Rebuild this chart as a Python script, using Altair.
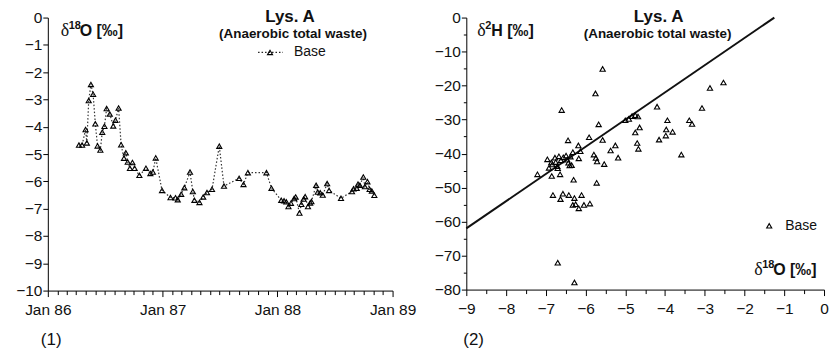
import altair as alt
import pandas as pd

# ---------------- data: panel (1) time series of d18O ----------------
dates = [
    "1986-04-10", "1986-04-20", "1986-05-01", "1986-05-05", "1986-05-11", "1986-05-18",
    "1986-05-25", "1986-06-01", "1986-06-08", "1986-06-17", "1986-06-23", "1986-06-30",
    "1986-07-07", "1986-07-17", "1986-07-28", "1986-08-04", "1986-08-14", "1986-08-22",
    "1986-08-31", "1986-09-06", "1986-09-12", "1986-09-19", "1986-09-27", "1986-10-04",
    "1986-10-19", "1986-11-09", "1986-11-23", "1986-12-01", "1986-12-10", "1986-12-30",
    "1987-01-26", "1987-02-11", "1987-02-18", "1987-03-01", "1987-03-11", "1987-03-29",
    "1987-04-07", "1987-04-12", "1987-04-28", "1987-05-10", "1987-05-22", "1987-06-07",
    "1987-06-30", "1987-07-15", "1987-09-01", "1987-09-15", "1987-09-29", "1987-11-27",
    "1987-12-13", "1988-01-13", "1988-01-22", "1988-01-29", "1988-02-05", "1988-02-13",
    "1988-02-23", "1988-02-28", "1988-03-11", "1988-03-17", "1988-03-24", "1988-03-29",
    "1988-04-07", "1988-04-14", "1988-04-18", "1988-05-03", "1988-05-08", "1988-05-16",
    "1988-05-24", "1988-06-07", "1988-06-13", "1988-07-21", "1988-08-25", "1988-08-30",
    "1988-09-09", "1988-09-13", "1988-09-19", "1988-09-30", "1988-10-05", "1988-10-13",
    "1988-10-20", "1988-10-27", "1988-11-04",
]
d18o = [
    -4.67, -4.67, -4.10, -4.59, -3.04, -2.45,
    -2.81, -3.89, -4.70, -4.85, -4.20, -3.98,
    -3.33, -3.53, -3.97, -3.76, -3.31, -4.66,
    -5.15, -4.95, -5.29, -5.52, -5.31, -5.52,
    -5.78, -5.52, -5.71, -5.66, -5.14, -6.33,
    -6.59, -6.60, -6.67, -6.47, -6.23, -5.66,
    -6.37, -6.69, -6.77, -6.57, -6.41, -6.29,
    -4.71, -6.17, -5.89, -6.11, -5.68, -5.68,
    -6.25, -6.69, -6.71, -6.75, -6.92, -6.80,
    -6.63, -6.57, -7.16, -6.84, -6.65, -6.56,
    -6.92, -6.79, -6.74, -6.14, -6.39, -6.42,
    -6.50, -6.08, -6.33, -6.62, -6.37, -6.27,
    -6.25, -6.10, -6.14, -5.84, -6.19, -6.01,
    -6.29, -6.35, -6.51,
]

# ---------------- data: panel (2) d18O vs d2H ----------------
sx = [
    -5.57, -5.75, -6.60, -5.67, -4.20, -2.87, -2.53, -3.07, -3.94, -3.39,
    -3.32, -3.97, -3.81, -3.98, -4.15, -3.59, -5.00, -4.91, -4.83, -4.75,
    -4.68, -4.64, -4.75, -4.70, -4.67, -5.57, -5.91, -6.44, -6.18, -6.13,
    -6.17, -5.79, -5.74, -5.71, -5.53, -5.37, -5.25, -5.18, -6.32,
    -6.96, -6.92, -6.86, -6.84, -6.77, -6.75, -6.71, -6.67, -6.62, -6.56,
    -6.49, -6.46, -6.43, -6.40, -6.35, -6.38, -6.70,
    -7.21, -6.85, -6.64, -6.30, -5.72, -6.82, -6.63, -6.57, -6.42, -6.28,
    -6.10, -6.32, -6.25, -6.17, -6.04, -5.89, -6.70, -6.28,
]
sy = [
    -15.1, -22.3, -27.2, -31.4, -26.2, -20.7, -19.1, -26.6, -30.2, -30.2,
    -31.3, -32.9, -33.6, -34.7, -35.9, -40.3, -30.2, -29.8, -29.0, -28.7,
    -29.1, -32.3, -33.8, -36.9, -38.6, -36.0, -35.2, -36.1, -37.6, -39.3,
    -41.4, -40.3, -41.3, -42.3, -43.1, -39.1, -37.6, -41.2, -39.6,
    -41.7, -44.2, -42.6, -43.2, -41.2, -42.5, -43.7, -40.8, -42.0, -41.1,
    -40.6, -41.8, -42.7, -43.5, -43.4, -40.9, -44.3,
    -46.1, -46.6, -46.1, -47.7, -48.6, -52.2, -53.4, -51.8, -52.2, -53.1,
    -52.2, -55.1, -54.9, -56.1, -55.1, -54.7, -72.1, -77.9,
]

# Global meteoric water line end points
gmwl_x = [-9.0, -1.25]
gmwl_y = [-62.0, 0.0]

# tick values
month_ticks = [alt.DateTime(year=1986 + i // 12, month=i % 12 + 1, date=1) for i in range(37)]
y1_ticks = list(range(-10, 1))
x2_ticks = [v / 2 for v in range(-18, 1)]
y2_ticks = list(range(-80, 1, 5))

FONT = "Liberation Sans"
SERIF = "Liberation Serif"

df1 = pd.DataFrame({"date": dates, "v": d18o})
df2 = pd.DataFrame({"x": sx, "y": sy})
dfl = pd.DataFrame({"x": gmwl_x, "y": gmwl_y})
one = alt.Data(values=[{"a": 1}])

W1, H1 = 346, 274
W2, H2 = 359, 273

axis_common = dict(grid=False, title=None, domainColor="black", tickColor="black",
                   labelColor="#111", labelFont=FONT, labelFontSize=15.5, domainWidth=1,
                   tickWidth=1, labelFlush=False)


def txt(text, x, y, size, weight="normal", font=FONT, align="left"):
    return alt.Chart(one).mark_text(
        text=text, font=font, fontSize=size, fontWeight=weight, align=align,
        baseline="middle", color="#111"
    ).encode(x=alt.value(x), y=alt.value(y))


# ---------------- panel 1 ----------------
x1 = alt.X(
    "date:T",
    scale=alt.Scale(domain=[alt.DateTime(year=1986, month=1, date=1),
                            alt.DateTime(year=1989, month=1, date=1)]),
    axis=alt.Axis(
        values=month_ticks,
        labelExpr="month(datum.value) == 0 ? timeFormat(datum.value, '%b %y') : ''",
        tickSize={"condition": {"test": "month(datum.value) == 0", "value": 6}, "value": 4},
        labelPadding=6, labelOverlap=False, **axis_common,
    ),
)
y1 = alt.Y("v:Q", scale=alt.Scale(domain=[-10, 0]),
           axis=alt.Axis(values=y1_ticks, tickSize=5, labelPadding=1, **axis_common))

line1 = alt.Chart(df1).mark_line(
    stroke="#333", strokeWidth=1.2, strokeDash=[1.5, 2]
).encode(x=x1, y=y1)
pts1 = alt.Chart(df1).mark_point(
    shape="triangle-up", filled=False, stroke="black", strokeWidth=1.1, size=26, opacity=1
).encode(x=x1, y=y1)

leg1_line = alt.Chart(one).mark_rule(stroke="#222", strokeWidth=1.2, strokeDash=[1.5, 2]).encode(
    x=alt.value(211), x2=alt.value(236), y=alt.value(35))
leg1_pt = alt.Chart(one).mark_point(
    shape="triangle-up", filled=False, stroke="black", strokeWidth=1.1, size=26, opacity=1
).encode(x=alt.value(223), y=alt.value(35))

left = alt.layer(
    line1, pts1, leg1_line, leg1_pt,
    txt("Base", 247, 35, 14),
    txt("Lys. A", 243, -1, 17, "bold", align="center"),
    txt("(Anaerobic total waste)", 246, 17, 13.5, "bold", align="center"),
    txt("δ", 13, 13, 18, font=SERIF),
    txt("18", 21, 8, 11, "bold"),
    txt("O [‰]", 32, 13, 16, "bold"),
    txt("(1)", -7, 324, 17),
).properties(width=W1, height=H1)

# ---------------- panel 2 ----------------
x2 = alt.X(
    "x:Q", scale=alt.Scale(domain=[-9, 0], nice=False),
    axis=alt.Axis(
        values=x2_ticks,
        labelExpr="datum.value % 1 == 0 ? datum.label : ''",
        format="~g",
        tickSize={"condition": {"test": "datum.value % 1 == 0", "value": 6}, "value": 4},
        labelPadding=6, labelOverlap=False, **axis_common,
    ),
)
y2 = alt.Y(
    "y:Q", scale=alt.Scale(domain=[-80, 0], nice=False),
    axis=alt.Axis(
        values=y2_ticks,
        labelExpr="datum.value % 10 == 0 ? datum.label : ''",
        tickSize={"condition": {"test": "datum.value % 10 == 0", "value": 5}, "value": 3},
        labelPadding=1, labelOverlap=False, **axis_common,
    ),
)

pts2 = alt.Chart(df2).mark_point(
    shape="triangle-up", filled=False, stroke="black", strokeWidth=1.1, size=28, opacity=1
).encode(x=x2, y=y2)
line2 = alt.Chart(dfl).mark_line(stroke="#111", strokeWidth=2).encode(x=x2, y=y2)

leg2_pt = alt.Chart(one).mark_point(
    shape="triangle-up", filled=False, stroke="black", strokeWidth=1.1, size=26, opacity=1
).encode(x=alt.value(304), y=alt.value(209))

right = alt.layer(
    line2, pts2, leg2_pt,
    txt("Base", 320, 209, 14),
    txt("Lys. A", 193, -1, 17, "bold", align="center"),
    txt("(Anaerobic total waste)", 192, 17, 13.5, "bold", align="center"),
    txt("δ", 11, 13, 18, font=SERIF),
    txt("2", 19, 8, 11, "bold"),
    txt("H [‰]", 25, 13, 16, "bold"),
    txt("δ", 289, 253, 18, font=SERIF),
    txt("18", 297, 248, 11, "bold"),
    txt("O [‰]", 308, 253, 16, "bold"),
    txt("(2)", -3, 324, 17),
).properties(width=W2, height=H2)

chart = alt.hconcat(left, right, spacing=74, bounds="flush").properties(
    padding={"left": 15, "top": 7, "right": 0, "bottom": 0},
    background="white",
).configure_view(stroke=None)

chart.save("out.html", embed_options={"renderer": "svg", "actions": False})
